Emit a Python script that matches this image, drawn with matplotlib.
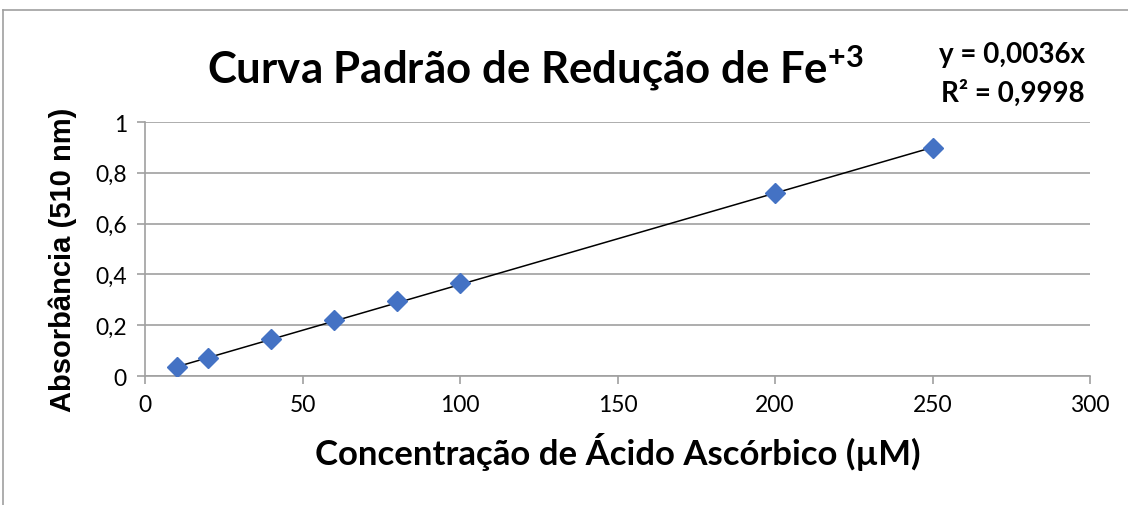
import matplotlib.pyplot as plt
from matplotlib.lines import Line2D
import numpy as np

# ácido ascórbico (µM) vs absorbância a 510 nm
concentracao = [10, 20, 40, 60, 80, 100, 200, 250]
absorbancia = [0.035, 0.071, 0.144, 0.219, 0.296, 0.367, 0.719, 0.899]
inclinacao = 0.0036
r2_texto = "0,9998"

x_ticks = [0, 50, 100, 150, 200, 250, 300]
y_ticks = [0, 0.2, 0.4, 0.6, 0.8, 1.0]
y_tick_labels = ["0", "0,2", "0,4", "0,6", "0,8", "1"]

plt.rcParams['font.family'] = ['Lato', 'DejaVu Sans']
plt.rcParams['mathtext.fontset'] = 'custom'
plt.rcParams['mathtext.rm'] = 'Lato:bold'
plt.rcParams['mathtext.it'] = 'Lato:bold'
plt.rcParams['mathtext.bf'] = 'Lato:bold'

fig = plt.figure(figsize=(11.28, 5.06), dpi=100)
ax = fig.add_axes([145 / 1128, 1 - 377 / 506, 945 / 1128, 254 / 506])

grid_cor = '#a0a0a0'

# moldura externa do gráfico
fig.add_artist(Line2D([3 / 1128, 3 / 1128], [0, 1 - 11 / 506], transform=fig.transFigure,
                      color=grid_cor, lw=1.2))
fig.add_artist(Line2D([3 / 1128, 1], [1 - 11 / 506, 1 - 11 / 506], transform=fig.transFigure,
                      color=grid_cor, lw=1.2))

# linha de tendência linear pela origem
xs = np.array([min(concentracao), max(concentracao)])
ax.plot(xs, inclinacao * xs, color='black', lw=1.1, zorder=2)
ax.plot(concentracao, absorbancia, linestyle='none', marker='D', markersize=10,
        color='#4472C4', zorder=3)

ax.set_xlim(0, 300)
ax.set_ylim(0, 1)
ax.set_xticks(x_ticks)
ax.set_xticklabels([str(t) for t in x_ticks])
ax.set_yticks(y_ticks)
ax.set_yticklabels(y_tick_labels)
ax.tick_params(axis='both', labelsize=16.5, color=grid_cor, length=6, width=1.2, pad=7)
ax.yaxis.grid(True, color=grid_cor, lw=1.2)
ax.set_axisbelow(True)
for lado in ['top', 'right']:
    ax.spines[lado].set_visible(False)
for lado in ['left', 'bottom']:
    ax.spines[lado].set_color(grid_cor)
    ax.spines[lado].set_linewidth(1.2)

ax.set_xlabel("Concentração de Ácido Ascórbico (µM)", fontsize=25, fontweight='bold', labelpad=12)
ax.set_ylabel("Absorbância (510 nm)", fontsize=21, fontweight='bold',
              family=['Liberation Sans', 'DejaVu Sans'])
ax.yaxis.set_label_coords(-0.072, 0.46)

fig.text(535 / 1128, 1 - 68 / 506, "Curva Padrão de Redução de Fe$^{+3}$", fontsize=31.5,
         fontweight='bold', ha='center', va='center')
fig.text(1085 / 1128, 1 - 55 / 506, "y = " + f"{inclinacao:.4f}".replace('.', ',') + "x",
         fontsize=20, fontweight='bold', ha='right', va='center')
fig.text(1085 / 1128, 1 - 93 / 506, f"R² = {r2_texto}", fontsize=20, fontweight='bold',
         ha='right', va='center')

fig.savefig('out.png', dpi=100)
